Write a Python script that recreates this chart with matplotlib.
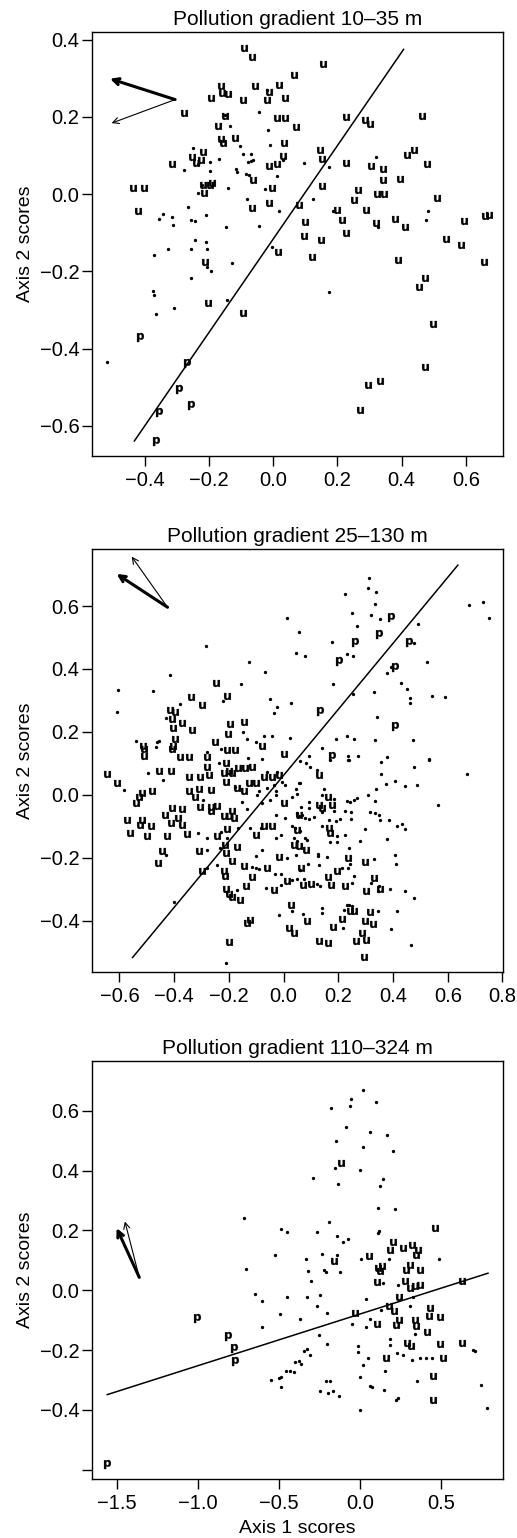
import numpy as np
import matplotlib
matplotlib.use("Agg")
import matplotlib.pyplot as plt

plt.rcParams['font.family'] = ['Liberation Sans', 'DejaVu Sans']

# ---- panel 1 : 10-35 m ----
p1_u = [(-0.091, 0.378), (-0.067, 0.355), (0.156, 0.338), (0.065, 0.308), (-0.057, 0.280),
        (0.017, 0.282), (-0.163, 0.280), (-0.161, 0.262), (-0.142, 0.260), (-0.012, 0.265),
        (-0.195, 0.250), (-0.093, 0.243), (-0.021, 0.243), (0.037, 0.250), (-0.279, 0.210),
        (-0.151, 0.202), (0.225, 0.200), (0.463, 0.202), (0.012, 0.196), (0.037, 0.196),
        (0.286, 0.191), (0.300, 0.181), (-0.171, 0.176), (0.070, 0.174), (-0.119, 0.145),
        (-0.163, 0.144), (-0.158, 0.133), (0.034, 0.133), (0.146, 0.114), (0.416, 0.101),
        (0.437, 0.114), (-0.220, 0.109), (-0.254, 0.097), (-0.241, 0.082), (0.029, 0.098),
        (0.151, 0.090), (-0.224, 0.088), (-0.317, 0.077), (-0.012, 0.073), (0.010, 0.078),
        (0.225, 0.081), (0.304, 0.073), (0.478, 0.077), (0.343, 0.064), (-0.062, 0.036),
        (0.343, 0.036), (0.395, 0.039), (-0.220, 0.023), (-0.190, 0.030), (-0.197, 0.023),
        (-0.438, 0.015), (-0.403, 0.015), (0.151, 0.022), (-0.003, 0.016), (0.265, 0.012),
        (-0.216, 0.003), (0.253, -0.014), (0.323, 0.000), (0.345, 0.000), (0.510, -0.011),
        (-0.014, -0.022), (-0.421, -0.043), (-0.065, -0.037), (0.081, -0.028), (0.198, -0.041),
        (0.290, -0.041), (0.660, -0.057), (0.672, -0.053), (0.100, -0.072), (0.214, -0.067),
        (0.378, -0.063), (0.593, -0.070), (0.320, -0.074), (0.409, -0.086), (0.225, -0.100),
        (0.095, -0.109), (0.539, -0.115), (0.150, -0.119), (0.584, -0.132), (0.016, -0.149),
        (0.120, -0.162), (0.388, -0.171), (0.657, -0.176), (-0.214, -0.176), (0.453, -0.240),
        (0.474, -0.216), (-0.203, -0.281), (-0.095, -0.307), (0.499, -0.336), (0.473, -0.447),
        (0.295, -0.494), (0.333, -0.483), (0.270, -0.559)]
p1_p = [(-0.414, -0.371), (-0.270, -0.438), (-0.294, -0.505), (-0.257, -0.545),
        (-0.356, -0.565), (-0.367, -0.638)]
p1_dot = [(-0.021, 0.271), (-0.044, 0.214), (-0.151, 0.205), (-0.135, 0.177), (-0.015, 0.166),
          (-0.104, 0.126), (-0.010, 0.128), (-0.251, 0.120), (-0.093, 0.104), (-0.070, 0.104),
          (0.031, 0.088), (-0.234, 0.077), (-0.197, 0.084), (-0.168, 0.090), (-0.080, 0.084),
          (-0.071, 0.085), (-0.062, 0.088), (0.097, 0.081), (0.175, 0.071), (0.321, 0.096),
          (-0.279, 0.063), (-0.196, 0.059), (-0.114, 0.057), (-0.116, 0.066), (-0.085, 0.052),
          (-0.075, 0.049), (0.012, 0.048), (-0.223, 0.025), (-0.026, 0.013), (-0.142, 0.016),
          (-0.234, 0.002), (-0.083, -0.013), (0.125, -0.013), (-0.267, -0.033), (0.186, -0.044),
          (0.019, -0.044), (-0.343, -0.051), (-0.356, -0.063), (-0.317, -0.059), (-0.210, -0.053),
          (0.483, -0.044), (-0.256, -0.067), (-0.245, -0.069), (0.475, -0.066), (0.326, -0.084),
          (-0.312, -0.081), (-0.149, -0.086), (-0.044, -0.082), (-0.245, -0.118), (-0.209, -0.123),
          (-0.327, -0.141), (-0.256, -0.143), (-0.207, -0.141), (-0.005, -0.136), (-0.372, -0.158),
          (-0.207, -0.188), (-0.194, -0.199), (-0.130, -0.178), (-0.256, -0.217), (0.175, -0.253),
          (-0.374, -0.250), (-0.373, -0.260), (-0.144, -0.274), (-0.310, -0.294), (-0.366, -0.311),
          (-0.518, -0.434)]
p1_line = [(-0.433, -0.639), (0.406, 0.375)]
p1_arrows = [(-0.306, 0.245, -0.509, 0.299), (-0.306, 0.245, -0.504, 0.184)]

# ---- panel 2 : 25-130 m ----
p2_u = [(-0.248, 0.355), (-0.340, 0.312), (-0.298, 0.286), (-0.415, 0.270), (-0.395, 0.264),
        (-0.407, 0.241), (-0.371, 0.228), (-0.404, 0.211), (-0.334, 0.207), (-0.194, 0.225),
        (-0.144, 0.232), (-0.204, 0.193), (-0.078, 0.156), (-0.513, 0.156), (-0.511, 0.146),
        (-0.509, 0.124), (-0.407, 0.146), (-0.395, 0.177), (-0.404, 0.156), (-0.251, 0.167),
        (-0.206, 0.142), (-0.176, 0.142), (-0.279, 0.119), (-0.380, 0.119), (-0.346, 0.119),
        (0.001, 0.130), (-0.206, 0.315),
        (-0.645, 0.066), (-0.609, 0.037), (-0.456, 0.075), (-0.411, 0.076), (-0.346, 0.058),
        (-0.304, 0.058), (-0.271, 0.063), (-0.279, 0.090), (-0.212, 0.101), (-0.218, 0.069),
        (-0.200, 0.075), (-0.212, 0.042), (-0.188, 0.069), (-0.165, 0.085), (-0.140, 0.085),
        (-0.117, 0.090), (-0.072, 0.058), (-0.041, 0.058), (-0.017, 0.063), (-0.346, 0.011),
        (-0.310, 0.019), (-0.267, 0.016), (-0.170, 0.022), (-0.144, 0.011), (-0.127, 0.037),
        (-0.102, 0.037), (-0.529, -0.006), (-0.541, -0.025), (-0.517, 0.005), (-0.480, 0.011),
        (-0.322, -0.006), (-0.267, -0.040), (-0.267, -0.051), (-0.243, -0.035), (-0.304, -0.040),
        (-0.407, -0.041), (-0.371, -0.046), (-0.218, -0.068), (-0.200, -0.068), (-0.182, -0.073),
        (-0.188, -0.052), (0.001, -0.027), (0.056, -0.064), (-0.572, -0.079), (-0.517, -0.079),
        (-0.523, -0.095), (-0.483, -0.100), (-0.434, -0.063), (-0.410, -0.090), (-0.385, -0.074),
        (-0.373, -0.095), (-0.560, -0.121), (-0.499, -0.132), (-0.426, -0.132), (-0.352, -0.126),
        (-0.245, -0.132), (-0.206, -0.108), (-0.072, -0.100), (-0.041, -0.100), (-0.102, -0.129),
        (0.050, -0.111), (-0.444, -0.177), (-0.460, -0.217), (-0.310, -0.180), (-0.215, -0.160),
        (-0.212, -0.185), (-0.170, -0.166), (-0.017, -0.198), (0.038, -0.158), (-0.298, -0.243),
        (-0.218, -0.243), (-0.215, -0.259), (-0.188, -0.210), (-0.145, -0.227), (-0.117, -0.260),
        (-0.060, -0.232), (0.013, -0.274), (-0.212, -0.300), (-0.200, -0.315), (-0.188, -0.325),
        (-0.161, -0.334), (-0.139, -0.290), (-0.035, -0.301), (0.026, -0.349), (-0.133, -0.407),
        (-0.121, -0.397), (0.020, -0.423), (0.038, -0.439), (-0.198, -0.468),
        (0.128, 0.063), (0.162, -0.006), (0.128, -0.033), (0.140, -0.043), (0.177, -0.033),
        (0.165, -0.106), (0.171, -0.122), (0.083, -0.176), (0.235, -0.200), (0.299, -0.213),
        (0.065, -0.232), (0.195, -0.243), (0.070, -0.288), (0.101, -0.284), (0.162, -0.262),
        (0.174, -0.288), (0.226, -0.291), (0.332, -0.264), (0.302, -0.307), (0.354, -0.298),
        (0.085, -0.400), (0.256, -0.370), (0.317, -0.372), (0.244, -0.370), (0.215, -0.394),
        (0.299, -0.402), (0.325, -0.411), (0.180, -0.421), (0.287, -0.439), (0.128, -0.466),
        (0.162, -0.471), (0.266, -0.463), (0.302, -0.460), (0.293, -0.514), (0.055, -0.161)]
p2_p = [(0.391, 0.566), (0.350, 0.511), (0.260, 0.485), (0.457, 0.485), (0.201, 0.426),
        (0.409, 0.407), (0.134, 0.266), (0.406, 0.220), (0.177, 0.122)]
p2_dot = [(0.012, 0.561), (0.056, 0.516), (0.044, 0.451), (-0.283, 0.474), (-0.127, 0.421),
          (-0.068, 0.391), (-0.415, 0.381), (-0.154, 0.353), (-0.606, 0.332), (-0.479, 0.329),
          (-0.609, 0.264), (-0.048, 0.304), (-0.023, 0.280), (-0.034, 0.259), (0.027, 0.292),
          (-0.378, 0.288), (-0.429, 0.243), (-0.221, 0.299), (-0.148, 0.199), (-0.135, 0.177),
          (-0.099, 0.169), (-0.071, 0.186), (-0.041, 0.186), (0.024, 0.182), (-0.541, 0.170),
          (-0.466, 0.153), (-0.456, 0.172), (-0.462, 0.168), (-0.230, 0.146), (-0.279, 0.137),
          (-0.130, 0.116), (-0.080, 0.114),
          (0.313, 0.690), (0.310, 0.658), (0.338, 0.644), (0.226, 0.637), (0.335, 0.608),
          (0.251, 0.579), (0.321, 0.572), (0.351, 0.560), (0.268, 0.536), (0.490, 0.544),
          (0.677, 0.603), (0.729, 0.612), (0.750, 0.561), (0.178, 0.486), (0.478, 0.482),
          (0.080, 0.442), (0.232, 0.446), (0.255, 0.440), (0.393, 0.405), (0.524, 0.421),
          (0.377, 0.386), (0.179, 0.353), (0.430, 0.355), (0.450, 0.336), (0.329, 0.328),
          (0.252, 0.322), (0.463, 0.307), (0.462, 0.292), (0.544, 0.313), (0.590, 0.310),
          (0.340, 0.247), (0.191, 0.179), (0.233, 0.188), (0.259, 0.178), (0.334, 0.173),
          (0.474, 0.173), (0.141, 0.150), (0.092, 0.122), (0.236, 0.124), (0.236, 0.112),
          (0.272, 0.124), (0.378, 0.119), (0.532, 0.114),
          (-0.584, 0.016), (-0.495, 0.069), (-0.441, 0.048), (-0.237, 0.101), (-0.060, 0.074),
          (-0.005, 0.042), (-0.023, 0.074), (-0.090, 0.011), (-0.060, 0.022), (-0.035, 0.032),
          (-0.029, 0.011), (0.007, 0.032), (0.056, 0.037), (-0.176, 0.024), (-0.294, -0.016),
          (-0.151, -0.022), (-0.133, -0.044), (-0.096, -0.001), (-0.078, -0.027), (-0.048, -0.016),
          (-0.026, -0.001), (0.032, -0.006), (0.046, 0.017), (0.007, -0.074), (-0.029, -0.063),
          (-0.312, -0.121), (-0.279, -0.138), (-0.230, -0.119), (-0.206, -0.138), (-0.167, -0.104),
          (-0.121, -0.106), (-0.084, -0.106), (-0.029, -0.138), (-0.009, -0.129), (0.032, -0.100),
          (0.038, -0.138), (-0.429, -0.192), (-0.279, -0.174), (-0.234, -0.169), (-0.078, -0.174),
          (-0.102, -0.195), (0.013, -0.200), (0.044, -0.190), (-0.279, -0.232), (-0.243, -0.224),
          (-0.117, -0.229), (-0.102, -0.232), (-0.090, -0.237), (-0.032, -0.250), (-0.011, -0.250),
          (0.032, -0.271), (0.060, -0.239), (-0.170, -0.301), (-0.063, -0.296), (-0.011, -0.286),
          (-0.401, -0.339), (0.029, -0.370), (-0.015, -0.381), (-0.212, -0.535),
          (0.061, 0.106), (0.083, 0.101), (0.098, 0.090), (0.171, 0.112), (0.238, 0.112),
          (0.357, 0.104), (0.476, 0.090), (0.530, 0.112), (0.671, 0.066), (0.122, 0.079),
          (0.356, 0.067), (0.061, 0.038), (0.049, 0.003), (0.339, 0.019), (0.376, 0.034),
          (0.409, 0.043), (0.445, 0.027), (0.488, 0.032), (0.146, 0.019), (0.140, 0.000),
          (0.186, -0.012), (0.309, -0.001), (0.333, -0.018), (0.565, -0.033), (0.092, -0.022),
          (0.065, -0.038), (0.092, -0.043), (0.049, -0.059), (0.183, -0.052), (0.232, -0.019),
          (0.244, -0.024), (0.256, -0.017), (0.268, -0.010), (0.226, -0.050), (0.248, -0.054),
          (0.317, -0.054), (0.335, -0.057), (0.348, -0.063), (0.055, -0.068), (0.067, -0.065),
          (0.092, -0.076), (0.079, -0.073), (0.113, -0.070), (0.140, -0.054), (0.165, -0.079),
          (0.192, -0.082), (0.207, -0.076), (0.246, -0.076), (0.354, -0.079), (0.387, -0.079),
          (0.415, -0.100), (0.431, -0.093), (0.443, -0.107), (0.140, -0.100), (0.195, -0.130),
          (0.226, -0.127), (0.296, -0.108), (0.171, -0.151), (0.195, -0.150), (0.280, -0.148),
          (0.377, -0.140), (0.043, -0.105), (0.061, -0.114), (0.079, -0.137), (0.085, -0.143),
          (0.049, -0.148), (0.240, -0.168), (0.126, -0.195), (0.126, -0.188), (0.159, -0.197),
          (0.332, -0.205), (0.406, -0.192), (0.411, -0.220), (0.089, -0.220), (0.130, -0.224),
          (0.213, -0.232), (0.235, -0.232), (0.244, -0.221), (0.259, -0.259), (0.049, -0.266),
          (0.073, -0.269), (0.122, -0.282), (0.134, -0.290), (0.250, -0.280), (0.321, -0.280),
          (0.345, -0.307), (0.348, -0.291), (0.390, -0.298), (0.445, -0.307), (0.476, -0.328),
          (0.232, -0.349), (0.140, -0.360), (0.140, -0.376), (0.071, -0.379), (0.220, -0.366),
          (0.238, -0.349), (0.250, -0.354), (0.345, -0.368), (0.416, -0.370), (0.216, -0.423),
          (0.394, -0.425), (0.466, -0.478)]
p2_line = [(-0.552, -0.517), (0.637, 0.730)]
p2_arrows = [(-0.424, 0.596, -0.610, 0.702), (-0.424, 0.596, -0.555, 0.757)]

# ---- panel 3 : 110-324 m ----
p3_u = [(-0.119, 0.425), (0.467, 0.208), (-0.160, 0.099), (0.058, 0.116), (0.185, 0.133),
        (0.206, 0.161), (0.267, 0.141), (0.321, 0.152), (0.360, 0.136), (0.346, 0.119),
        (0.115, 0.074), (0.140, 0.080), (0.123, 0.063), (0.109, 0.029), (0.284, 0.069),
        (0.309, 0.085), (0.374, 0.069), (0.282, 0.032), (0.309, 0.007), (0.340, 0.013),
        (0.370, 0.018), (0.632, 0.032), (0.243, -0.024), (0.181, -0.052), (0.210, -0.071),
        (-0.031, -0.076), (0.436, -0.060), (0.426, -0.087), (0.494, -0.091), (0.109, -0.113),
        (0.226, -0.115), (0.243, -0.099), (0.340, -0.099), (0.350, -0.118), (0.416, -0.140),
        (0.165, -0.225), (0.294, -0.177), (0.315, -0.188), (0.514, -0.227), (0.494, -0.179),
        (0.634, -0.177), (0.453, -0.286), (0.453, -0.368)]
p3_p = [(-1.004, -0.093), (-0.811, -0.154), (-0.776, -0.193), (-0.770, -0.238), (-1.564, -0.581)]
p3_dot = [(0.019, 0.670), (-0.053, 0.639), (0.103, 0.628), (-0.179, 0.610), (-0.062, 0.617),
          (-0.086, 0.545), (0.066, 0.530), (0.171, 0.518), (-0.144, 0.500), (0.023, 0.479),
          (0.208, 0.466), (-0.150, 0.408), (0.000, 0.403), (-0.290, 0.375), (-0.136, 0.356),
          (0.146, 0.372), (0.126, 0.349), (0.111, 0.274), (0.220, 0.271), (-0.714, 0.241),
          (-0.193, 0.227), (-0.484, 0.204), (-0.451, 0.196), (-0.265, 0.196), (-0.142, 0.181),
          (-0.074, 0.172), (0.113, 0.191), (0.119, 0.199), (-0.103, 0.163), (-0.525, 0.119),
          (-0.700, 0.071), (-0.333, 0.104), (-0.235, 0.122), (-0.140, 0.119), (-0.319, 0.066),
          (-0.222, 0.068), (-0.206, 0.061), (-0.123, 0.060), (-0.302, 0.030), (0.010, 0.104),
          (0.181, 0.104), (0.490, 0.104), (0.144, 0.024), (0.237, 0.018), (-0.648, -0.012),
          (-0.607, -0.037), (-0.451, -0.022), (-0.325, -0.024), (-0.247, -0.017), (-0.263, -0.052),
          (-0.494, -0.079), (-0.370, -0.095), (-0.202, -0.076), (-0.607, -0.123), (0.041, -0.030),
          (0.329, -0.023), (0.311, -0.054), (0.134, -0.065), (-0.047, -0.113), (0.037, -0.123),
          (0.062, -0.096), (0.340, -0.146), (-0.251, -0.151), (-0.202, -0.180), (-0.323, -0.196),
          (-0.346, -0.202), (-0.305, -0.218), (-0.377, -0.238), (-0.401, -0.240), (-0.360, -0.246),
          (-0.551, -0.299), (-0.498, -0.294), (-0.484, -0.291), (-0.484, -0.325), (-0.457, -0.269),
          (-0.432, -0.269), (-0.405, -0.275), (-0.010, -0.188), (-0.010, -0.205), (0.021, -0.251),
          (0.051, -0.227), (0.189, -0.163), (0.189, -0.182), (0.230, -0.210), (0.265, -0.216),
          (0.325, -0.232), (0.370, -0.227), (0.412, -0.227), (0.444, -0.227), (0.710, -0.204),
          (0.700, -0.199), (0.156, -0.270), (0.004, -0.291), (0.062, -0.321), (0.078, -0.323),
          (0.150, -0.335), (0.352, -0.302), (0.751, -0.316), (-0.206, -0.302), (-0.181, -0.302),
          (-0.243, -0.338), (-0.195, -0.344), (-0.165, -0.336), (-0.128, -0.353), (0.226, -0.368),
          (0.237, -0.360), (0.000, -0.402), (0.788, -0.394)]
p3_line = [(-1.560, -0.349), (0.792, 0.057)]
p3_arrows = [(-1.362, 0.043, -1.502, 0.208), (-1.362, 0.043, -1.451, 0.230)]

titles = ["Pollution gradient 10\u201335 m", "Pollution gradient 25\u2013130 m",
          "Pollution gradient 110\u2013324 m"]
xlims = [(-0.565, 0.716), (-0.700, 0.802), (-1.654, 0.885)]
ylims = [(-0.678, 0.420), (-0.562, 0.780), (-0.631, 0.767)]
xticks = [[-0.4, -0.2, 0.0, 0.2, 0.4, 0.6],
          [-0.6, -0.4, -0.2, 0.0, 0.2, 0.4, 0.6, 0.8],
          [-1.5, -1.0, -0.5, 0.0, 0.5]]
yticks = [[-0.6, -0.4, -0.2, 0.0, 0.2, 0.4],
          [-0.4, -0.2, 0.0, 0.2, 0.4, 0.6],
          [-0.6, -0.4, -0.2, 0.0, 0.2, 0.4, 0.6]]


def fmt(v):
    return ('%.1f' % v).replace('-', '\u2212')


fig = plt.figure(figsize=(5.17, 15.38), dpi=100)
boxes = [[0.178, 0.7035, 0.795, 0.2757],
         [0.178, 0.3682, 0.795, 0.2746],
         [0.178, 0.0384, 0.795, 0.2718]]

panels = [(p1_u, p1_p, p1_dot, p1_line, p1_arrows),
          (p2_u, p2_p, p2_dot, p2_line, p2_arrows),
          (p3_u, p3_p, p3_dot, p3_line, p3_arrows)]

for i, (u, p, dots, line, arrows) in enumerate(panels):
    ax = fig.add_axes(boxes[i])
    d = np.array(dots)
    ax.plot(d[:, 0], d[:, 1], 'o', ms=2.4, color='k', mew=0)
    a = np.array(u)
    ax.plot(a[:, 0], a[:, 1], ls='none', marker=r'$\mathbf{u}$', ms=5, color='k', mew=0.2)
    a = np.array(p)
    ax.plot(a[:, 0], a[:, 1], ls='none', marker=r'$\mathbf{p}$', ms=6.5, color='k', mew=0.2)
    ln = np.array(line)
    ax.plot(ln[:, 0], ln[:, 1], color='k', lw=1.1)
    # biplot arrows: thick then thin
    for (x0, y0, x1, y1), lw in zip(arrows, (2.2, 0.8)):
        ax.annotate('', xy=(x1, y1), xytext=(x0, y0),
                    arrowprops=dict(arrowstyle='->', lw=lw, color='k',
                                    shrinkA=0, shrinkB=0, mutation_scale=11))
    ax.set_xlim(xlims[i])
    ax.set_ylim(ylims[i])
    ax.set_xticks(xticks[i])
    ax.set_xticklabels([fmt(v) for v in xticks[i]])
    ax.set_yticks(yticks[i])
    ylab = [fmt(v) for v in yticks[i]]
    if i == 2:
        ylab[0] = ''
    ax.set_yticklabels(ylab)
    ax.tick_params(direction='out', length=7, width=1, labelsize=14.5)
    ax.tick_params(axis='x', pad=4)
    ax.tick_params(axis='y', pad=2)
    for s in ax.spines.values():
        s.set_linewidth(1)
    ax.set_title(titles[i], fontsize=15, pad=5)
    ax.set_ylabel('Axis 2 scores', fontsize=14, labelpad=4)
    if i == 2:
        ax.set_xlabel('Axis 1 scores', fontsize=14, labelpad=5)

fig.savefig('out.png', dpi=100)
